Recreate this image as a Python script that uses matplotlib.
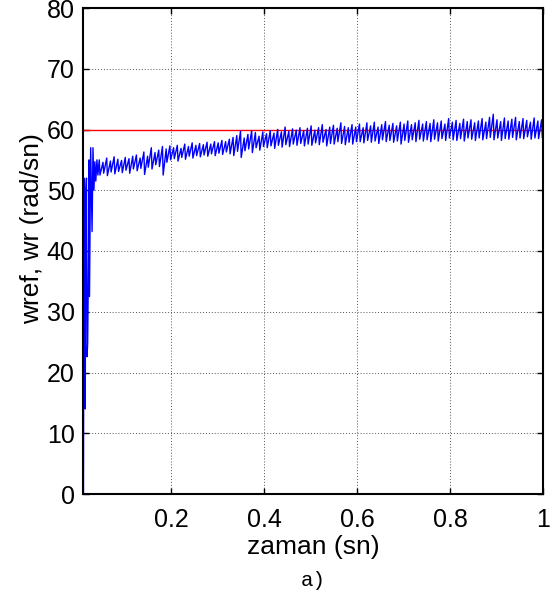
import numpy as np
import matplotlib
matplotlib.use("Agg")
import matplotlib.pyplot as plt

# start-up transient (time, speed)
t_start = [0.011, 0.0115, 0.012, 0.014, 0.0148, 0.016, 0.0175, 0.0187, 0.020, 0.022,
           0.023, 0.024, 0.0265, 0.0295, 0.0315, 0.0335, 0.0355, 0.0375, 0.040, 0.042]
w_start = [0.0, 30.0, 52.0, 38.0, 14.0, 50.0, 52.0, 22.6, 24.7, 40.0,
           55.0, 32.5, 57.0, 43.2, 57.0, 50.0, 54.7, 51.5, 55.0, 52.5]

# ripple after start-up: peak and trough of each swing, one swing per 0.008 s
w_peak = [55.0, 54.6, 55.3, 54.8, 55.5, 55.1, 54.9, 55.4, 55.2, 55.6,
          55.8, 55.3, 56.3, 55.6, 57.0, 56.2, 56.6, 57.2, 56.8, 57.3,
          57.0, 57.4, 56.9, 57.6, 57.2, 57.8, 57.4, 57.7, 57.5, 57.9,
          57.6, 58.0, 57.8, 58.2, 58.0, 58.4, 58.7, 59.0, 59.7, 58.6,
          59.2, 59.8, 59.5, 58.9, 59.6, 59.3, 59.8, 59.4, 60.0, 59.6,
          60.4, 59.7, 60.1, 59.9, 60.3, 59.8, 60.2, 60.6, 59.9, 60.3,
          60.8, 60.0, 60.4, 60.7, 60.2, 61.1, 60.5, 60.3, 60.8, 60.4,
          60.9, 60.3, 61.1, 60.6, 61.2, 60.4, 60.8, 61.3, 60.7, 61.0,
          60.6, 61.2, 60.9, 61.4, 60.8, 61.1, 61.5, 60.9, 61.3, 61.0,
          61.6, 61.1, 61.4, 60.9, 61.8, 61.2, 61.5, 61.0, 61.7, 61.3,
          61.6, 61.1, 61.4, 61.8, 61.2, 62.0, 62.5, 61.6, 61.3, 61.9,
          61.4, 61.7, 62.0, 61.3, 61.8, 61.5, 61.2, 61.9, 61.4, 61.6]
w_trough = [52.5, 52.8, 52.4, 53.0, 52.7, 53.1, 52.9, 53.3, 52.8, 53.5,
            53.2, 53.6, 52.6, 53.8, 53.5, 54.2, 53.9, 52.5, 54.6, 55.0,
            55.2, 54.8, 55.4, 55.1, 55.6, 55.3, 55.7, 55.5, 55.8, 55.6,
            56.0, 55.7, 56.1, 55.9, 56.3, 56.0, 55.7, 56.4, 55.4, 56.5,
            56.8, 56.2, 57.0, 56.6, 57.2, 57.0, 57.3, 56.9, 57.4, 57.1,
            57.5, 57.2, 57.6, 57.4, 57.7, 57.3, 57.6, 57.4, 57.8, 57.5,
            57.9, 57.3, 57.7, 57.6, 58.0, 57.7, 57.5, 57.9, 57.6, 58.0,
            58.0, 57.8, 58.2, 57.9, 58.1, 57.7, 58.3, 58.0, 58.2, 57.9,
            58.1, 57.6, 58.2, 57.9, 58.3, 58.0, 58.4, 58.1, 58.3, 58.0,
            58.4, 58.1, 58.5, 58.2, 58.6, 58.3, 58.2, 58.5, 58.1, 58.6,
            58.4, 58.2, 58.6, 58.3, 58.5, 58.7, 58.3, 58.6, 58.2, 58.5,
            58.4, 58.7, 58.3, 58.6, 58.5, 58.8, 58.4, 58.6, 58.5, 58.7]
t_peak = np.arange(len(w_peak)) * 0.008 + 0.045
t_trough = t_peak + 0.0015

w_ref = 60.0
x_ticks = [0.2, 0.4, 0.6, 0.8, 1.0]
x_ticklabels = ["0.2", "0.4", "0.6", "0.8", "1"]
y_ticks = [0, 10, 20, 30, 40, 50, 60, 70, 80]

plt.rcParams["font.family"] = ["Liberation Sans", "DejaVu Sans"]

fig = plt.figure(figsize=(5.58, 5.99), dpi=100)
ax = fig.add_axes([83 / 558, 1 - 494 / 599, 460 / 558, 486 / 599])

# measured trace: transient, then peak/trough ripple in time order
t_all = np.concatenate([t_start, np.column_stack([t_peak, t_trough]).ravel()])
w_all = np.concatenate([w_start, np.column_stack([w_peak, w_trough]).ravel()])

ax.plot([0.0, 1.0], [w_ref, w_ref], color="#ff0000", lw=1.0)
ax.plot(t_all, w_all, color="#0000ff", lw=1.0)

ax.set_xlim(0.01, 1.0)
ax.set_ylim(0, 80)
ax.set_xticks(x_ticks)
ax.set_xticklabels(x_ticklabels)
ax.set_yticks(y_ticks)
ax.grid(True, color="#555555", linestyle=(0, (1, 2)), lw=0.7)
ax.tick_params(direction="in", top=True, right=True, length=4, width=1,
               labelsize=18, pad=6)
ax.tick_params(axis="x", pad=10)
for s in ax.spines.values():
    s.set_linewidth(1.5)

fig.text(313 / 558, 1 - 547 / 599, "zaman (sn)", ha="center", va="center", fontsize=19)
fig.text(313 / 558, 1 - 580 / 599, "a)", ha="center", va="center", fontsize=15,
         family=["Liberation Mono", "DejaVu Sans Mono"])
fig.text(32 / 558, 1 - 229 / 599, "wref, wr (rad/sn)", ha="center", va="center",
         rotation=90, fontsize=19)

fig.savefig("out.png", dpi=100)
